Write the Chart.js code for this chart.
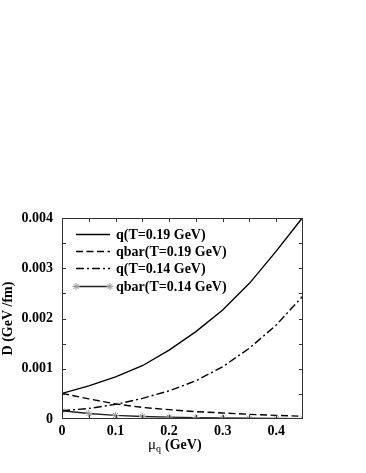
<!DOCTYPE html>
<html>
<head>
<meta charset="utf-8">
<script src="https://cdn.jsdelivr.net/npm/chart.js@4.4.1/dist/chart.umd.min.js"></script>
<style>
  html, body { margin: 0; padding: 0; background: #fff; }
  #wrap { width: 366px; height: 473px; position: relative; }
</style>
</head>
<body>
<div id="wrap"><canvas id="diffchart"></canvas></div>
<script>
// mu_q (GeV)
var mu = [0, 0.05, 0.1, 0.15, 0.2, 0.25, 0.3, 0.35, 0.4, 0.45];
// D (GeV/fm)
var qT019    = [0.00051, 0.00066, 0.00084, 0.00106, 0.00137, 0.00174, 0.00217, 0.0027, 0.00334, 0.00402];
var qbarT019 = [0.00051, 0.00040, 0.00030, 0.00023, 0.000186, 0.000146, 0.00012, 0.000093, 0.000073, 0.000053];
var qT014    = [0.000165, 0.00021, 0.00029, 0.00041, 0.00056, 0.00076, 0.00104, 0.00141, 0.00187, 0.00245];
var qbarT014 = [0.000165, 0.00011, 0.000072, 0.00005, 0.000037, 0.000027, 0.00002, 0.000014, 0.00001, 0.000007];

var seriesNames = ['q(T=0.19 GeV)', 'qbar(T=0.19 GeV)', 'q(T=0.14 GeV)', 'qbar(T=0.14 GeV)'];

var xTicks = [0, 0.1, 0.2, 0.3, 0.4];
var yTicks = [0, 0.001, 0.002, 0.003, 0.004];
var xMinor = [0.05, 0.1, 0.15, 0.2, 0.25, 0.3, 0.35, 0.4];
var yMinor = [0.0005, 0.001, 0.0015, 0.002, 0.0025, 0.003, 0.0035];

var serif = '"Liberation Serif", "Times New Roman", serif';

function pts(ys) {
	return mu.map(function(m, i){ return {x: m, y: ys[i]}; });
}

// box round the plot with small inward ticks on every side
var frameTicks = {
	id: 'frameTicks',
	afterDatasetsDraw: function(chart) {
		var ctx = chart.ctx, a = chart.chartArea;
		var xs = chart.scales.x, ys = chart.scales.y;
		var len = 4;
		ctx.save();
		ctx.strokeStyle = '#333';
		ctx.lineWidth = 1;
		ctx.strokeRect(a.left + 0.5, a.top + 0.5, a.right - a.left - 1, a.bottom - a.top - 1);
		ctx.beginPath();
		xMinor.forEach(function(v){
			var px = Math.round(xs.getPixelForValue(v)) + 0.5;
			ctx.moveTo(px, a.bottom); ctx.lineTo(px, a.bottom - len);
			ctx.moveTo(px, a.top); ctx.lineTo(px, a.top + len);
		});
		yMinor.forEach(function(v){
			var py = Math.round(ys.getPixelForValue(v)) + 0.5;
			ctx.moveTo(a.left, py); ctx.lineTo(a.left + len, py);
			ctx.moveTo(a.right, py); ctx.lineTo(a.right - len, py);
		});
		ctx.stroke();
		ctx.restore();
	}
};

// gnuplot style key in the top left corner
var keyBox = {
	id: 'keyBox',
	afterDatasetsDraw: function(chart) {
		var ctx = chart.ctx;
		var x0 = chart.chartArea.left + 14, x1 = x0 + 34;
		var y0 = chart.chartArea.top + 16, dy = 17.2;
		ctx.save();
		ctx.font = 'bold 14px ' + serif;
		ctx.textBaseline = 'middle';
		ctx.fillStyle = '#000';
		chart.data.datasets.forEach(function(ds, i){
			var y = Math.round(y0 + i * dy) + 0.5;
			ctx.strokeStyle = ds.borderColor;
			ctx.lineWidth = ds.borderWidth;
			ctx.setLineDash(ds.borderDash || []);
			ctx.beginPath();
			ctx.moveTo(x0, y); ctx.lineTo(x1, y);
			ctx.stroke();
			ctx.setLineDash([]);
			if (ds.pointRadius > 0) {
				ctx.strokeStyle = ds.pointBorderColor;
				ctx.fillStyle = ds.pointBorderColor;
				ctx.lineWidth = ds.pointBorderWidth;
				[x0, x1].forEach(function(px){
					Chart.helpers.drawPoint(ctx, {pointStyle: ds.pointStyle, radius: ds.pointRadius, borderWidth: ds.pointBorderWidth}, px, y);
				});
				ctx.fillStyle = '#000';
			}
			ctx.fillText(ds.label, x1 + 6, y + 1);
		});
		ctx.restore();
	}
};

// x axis title with subscript
var xTitle = {
	id: 'xTitle',
	afterDraw: function(chart) {
		var ctx = chart.ctx;
		var x = 148, y = 449;
		ctx.save();
		ctx.fillStyle = '#000';
		ctx.textBaseline = 'alphabetic';
		ctx.font = '15px ' + serif;
		ctx.fillText('\u03bc', x, y);
		x += ctx.measureText('\u03bc').width;
		ctx.font = '10px ' + serif;
		ctx.fillText('q', x, y + 3);
		x += ctx.measureText('q').width + 4;
		ctx.font = 'bold 14px ' + serif;
		ctx.fillText('(GeV)', x, y);
		ctx.restore();
	}
};

var ctx = document.getElementById('diffchart');
var chart = new Chart(ctx, {
	type: 'line',
	data: {
		datasets: [
			{
				label: seriesNames[0],
				data: pts(qT019),
				borderColor: '#000',
				borderWidth: 1.4,
				pointRadius: 0
			},
			{
				label: seriesNames[1],
				data: pts(qbarT019),
				borderColor: '#000',
				borderWidth: 1.4,
				borderDash: [7, 3.5],
				pointRadius: 0
			},
			{
				label: seriesNames[2],
				data: pts(qT014),
				borderColor: '#000',
				borderWidth: 1.4,
				borderDash: [8, 3, 2, 3],
				pointRadius: 0
			},
			{
				label: seriesNames[3],
				data: pts(qbarT014),
				borderColor: '#222',
				borderWidth: 1.4,
				pointStyle: 'star',
				pointRadius: 3.5,
				pointBorderColor: '#999',
				pointBackgroundColor: '#999',
				pointBorderWidth: 1
			}
		]
	},
	options: {
		responsive: true,
		maintainAspectRatio: false,
		animation: false,
		layout: { padding: { top: 218, right: 63, left: 0, bottom: 0 } },
		plugins: {
			legend: { display: false },
			tooltip: { enabled: false }
		},
		scales: {
			x: {
				type: 'linear',
				min: 0,
				max: 0.45,
				grid: { display: false, drawTicks: false },
				border: { display: false },
				afterBuildTicks: function(s){ s.ticks = xTicks.map(function(v){ return {value: v}; }); },
				afterFit: function(s){ s.height = 54; s.paddingLeft = 0; s.paddingRight = 0; },
				ticks: {
					padding: 4,
					color: '#000',
					maxRotation: 0,
					font: { family: serif, size: 14, weight: 'bold' },
					callback: function(v){ return String(v); }
				}
			},
			y: {
				type: 'linear',
				min: 0,
				max: 0.004,
				grid: { display: false, drawTicks: false },
				border: { display: false },
				afterBuildTicks: function(s){ s.ticks = yTicks.map(function(v){ return {value: v}; }); },
				afterFit: function(s){ s.width = 62; s.paddingTop = 0; s.paddingBottom = 0; },
				title: {
					display: true,
					text: 'D (GeV /fm)',
					color: '#000',
					padding: 0,
					font: { family: serif, size: 14, weight: 'bold' }
				},
				ticks: {
					padding: 9,
					color: '#000',
					font: { family: serif, size: 14, weight: 'bold' },
					callback: function(v){ return String(v); }
				}
			}
		}
	},
	plugins: [frameTicks, keyBox, xTitle]
});
</script>
</body>
</html>
